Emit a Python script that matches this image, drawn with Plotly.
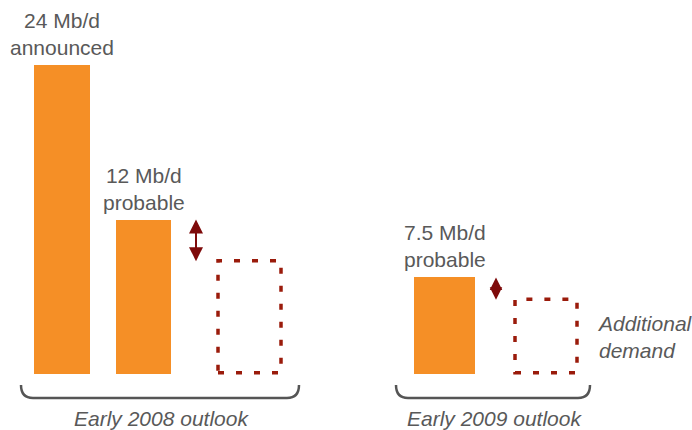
import plotly.graph_objects as go

# Capacity values (Mb/d)
bar_labels = ["24 Mb/d<br>announced", "12 Mb/d<br>probable", "7.5 Mb/d<br>probable"]
bar_values = [24, 12, 7.5]
bar_centers = [62, 143.5, 444.5]
bar_widths = [56, 55, 61]

# Additional demand (dashed outlines), Mb/d
demand_values = [8.8, 5.8]
demand_x0 = [218, 515]
demand_x1 = [281, 577]
arrow_x = [196, 496]
arrow_from_bar = [1, 2]
arrow_head_size = [1.4, 1.25]

group_labels = ["Early 2008 outlook", "Early 2009 outlook"]
group_centers = [161, 494]
brace_x = [(21, 299), (396, 590)]

ORANGE = "#F58F26"
DARK_RED = "#9A1B0B"
ARROW = "#7E0A0A"
TEXT = "#595959"
FONT = "Arial, Liberation Sans, sans-serif"

W, H = 692, 430

fig = go.Figure()
fig.add_trace(go.Bar(
    x=bar_centers, y=bar_values, width=bar_widths,
    marker=dict(color=ORANGE, line=dict(width=0)),
    hoverinfo="skip", showlegend=False,
))

shapes = []
annotations = []

# labels above the bars
for xc, v, lab in zip(bar_centers, bar_values, bar_labels):
    annotations.append(dict(
        x=xc, y=v, xref="x", yref="y", text=lab, showarrow=False,
        yanchor="bottom", xanchor="center", yshift=4,
        font=dict(family=FONT, size=21, color=TEXT),
    ))

# dashed demand outlines
for x0, x1, d in zip(demand_x0, demand_x1, demand_values):
    shapes.append(dict(
        type="rect", xref="x", yref="y", x0=x0, x1=x1, y0=0.1, y1=d,
        line=dict(color=DARK_RED, width=3.5, dash="6px,12px"),
        fillcolor="rgba(0,0,0,0)",
    ))

# double-headed gap arrows between capacity and demand
for ax_x, d, bi, hs in zip(arrow_x, demand_values, arrow_from_bar, arrow_head_size):
    annotations.append(dict(
        x=ax_x, y=bar_values[bi], ax=ax_x, ay=d - 0.15,
        xref="x", yref="y", axref="x", ayref="y",
        text="", showarrow=True, arrowhead=2, startarrowhead=2,
        arrowside="end+start", arrowwidth=2, arrowsize=hs,
        startarrowsize=hs, arrowcolor=ARROW,
    ))

# braces under each group
def py(p):
    return 1 - p / H

for (a, b) in brace_x:
    r = 12
    top, bot = py(385), py(398)
    path = (f"M {a},{top} Q {a},{bot} {a + r},{bot} "
            f"L {b - r},{bot} Q {b},{bot} {b},{top}")
    shapes.append(dict(type="path", xref="x", yref="paper", path=path,
                       line=dict(color="#555555", width=2.5)))

for xc, lab in zip(group_centers, group_labels):
    annotations.append(dict(
        x=xc, y=py(418), xref="x", yref="paper", text=f"<i>{lab}</i>",
        showarrow=False, xanchor="center", yanchor="middle",
        font=dict(family=FONT, size=21, color=TEXT),
    ))

annotations.append(dict(
    x=595, y=py(337), xref="x", yref="paper",
    text="<i>Additional</i><br><i>demand</i>", showarrow=False,
    xanchor="left", yanchor="middle", align="left",
    font=dict(family=FONT, size=21, color=TEXT),
))

fig.update_layout(
    width=W, height=H,
    margin=dict(l=0, r=0, t=0, b=0),
    paper_bgcolor="white", plot_bgcolor="white",
    xaxis=dict(range=[0, W], visible=False, fixedrange=True),
    yaxis=dict(range=[-4.35, 29.05], visible=False, fixedrange=True),
    shapes=shapes, annotations=annotations,
    bargap=0,
)

fig.write_html("out.html")
